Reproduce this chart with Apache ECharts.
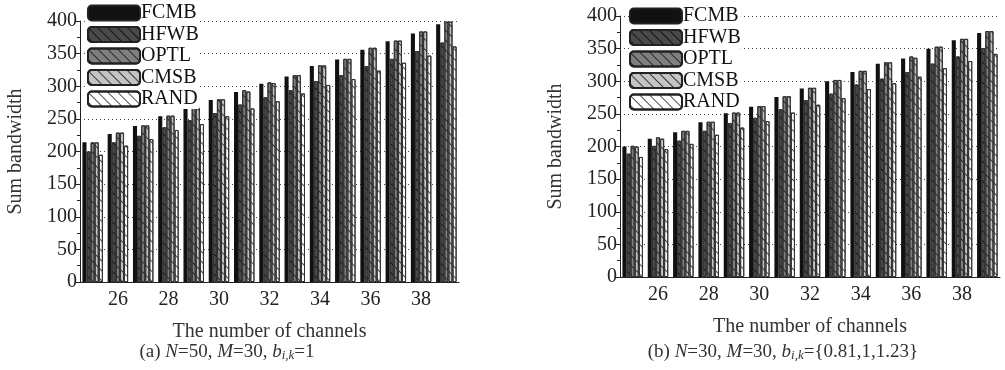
<!DOCTYPE html>
<html>
<head>
<meta charset="utf-8">
<script src="https://cdn.jsdelivr.net/npm/echarts@6/dist/echarts.min.js"></script>
<style>
  html, body { margin: 0; padding: 0; background: #fff; }
  #main { width: 1005px; height: 370px; }
</style>
</head>
<body>
<div id="main"></div>
<script>
// channels on the x axis
var channels = ['25','26','27','28','29','30','31','32','33','34','35','36','37','38','39'];
var names = ['FCMB', 'HFWB', 'OPTL', 'CMSB', 'RAND'];

// (a) N=50, M=30, b=1
var aFCMB = [214, 227, 239, 254, 266, 279, 291, 304, 315, 331, 341, 356, 369, 381, 395];
var aHFWB = [200, 214, 224, 237, 248, 259, 272, 283, 294, 308, 317, 331, 342, 354, 367];
var aOPTL = [214, 229, 240, 255, 267, 280, 294, 306, 317, 332, 342, 359, 370, 384, 399];
var aCMSB = [214, 229, 240, 255, 267, 280, 292, 305, 317, 332, 342, 359, 370, 384, 399];
var aRAND = [195, 209, 219, 233, 242, 254, 266, 277, 289, 302, 311, 324, 336, 347, 361];

// (b) N=30, M=30, b={0.81,1,1.23}
var bFCMB = [200, 212, 222, 237, 251, 261, 276, 289, 300, 314, 327, 335, 350, 363, 374];
var bHFWB = [189, 201, 209, 224, 236, 244, 257, 271, 281, 295, 304, 314, 327, 338, 351];
var bOPTL = [201, 214, 224, 238, 252, 262, 277, 290, 302, 316, 329, 338, 353, 365, 377];
var bCMSB = [200, 212, 224, 238, 252, 262, 277, 290, 302, 316, 329, 336, 353, 365, 377];
var bRAND = [184, 196, 204, 218, 229, 239, 252, 264, 274, 288, 297, 307, 320, 331, 342];

var fills = ['#111111', '#4a4a4a', '#7f7f7f', '#c4c4c4', '#ffffff'];
var serif = 'Liberation Serif';

function hatch(i) {
  if (i === 0) return null;
  return {
    symbol: 'rect',
    symbolSize: 1,
    rotation: Math.PI / 4,
    dashArrayX: [1, 0],
    dashArrayY: [1, 6],
    color: 'rgba(0,0,0,0.7)'
  };
}

function makeSeries(data, idx) {
  return data.map(function (d, i) {
    return {
      name: names[i],
      type: 'bar',
      xAxisIndex: idx,
      yAxisIndex: idx,
      data: d,
      barGap: '0%',
      barCategoryGap: '19%',
      itemStyle: {
        color: fills[i],
        borderColor: i === 0 ? '#000' : '#333',
        borderWidth: i === 0 ? 0 : 1,
        decal: hatch(i)
      }
    };
  });
}

function xAx(idx) {
  return {
    type: 'category',
    gridIndex: idx,
    data: channels,
    name: 'The number of channels',
    nameLocation: 'middle',
    nameGap: 40,
    nameTextStyle: { fontFamily: serif, fontSize: 20, color: '#333' },
    axisLine: { lineStyle: { color: '#222', width: 1 } },
    axisTick: { alignWithLabel: true, length: 5, lineStyle: { color: '#222' } },
    axisLabel: {
      fontFamily: serif, fontSize: 20, color: '#222', margin: 8,
      interval: function (index) { return index % 2 === 1; }
    },
    splitLine: { show: false }
  };
}

function yAx(idx) {
  return {
    type: 'value',
    gridIndex: idx,
    min: 0,
    max: 400,
    interval: 50,
    name: 'Sum bandwidth',
    nameLocation: 'middle',
    nameGap: 54,
    nameTextStyle: { fontFamily: serif, fontSize: 20, color: '#333' },
    axisLine: { show: true, lineStyle: { color: '#222', width: 1 } },
    axisTick: { show: true, length: 5, lineStyle: { color: '#222' } },
    minorTick: { show: true, splitNumber: 2, length: 3, lineStyle: { color: '#222' } },
    axisLabel: { fontFamily: serif, fontSize: 20, color: '#222', margin: 3 },
    splitLine: { show: true, lineStyle: { color: '#444', type: [1, 3], width: 1 } }
  };
}

function legendAt(left, top) {
  return {
    data: names,
    orient: 'vertical',
    left: left,
    top: top,
    itemWidth: 52,
    itemHeight: 15,
    itemGap: 1.5,
    padding: 0,
    backgroundColor: '#fff',
    selectedMode: false,
    itemStyle: { borderColor: '#222', borderWidth: 2 },
    textStyle: {
      fontFamily: serif, fontSize: 20, color: '#111', padding: [0, 0, 0, -4]
    }
  };
}

var capRich = {
  n: { fontFamily: serif, fontSize: 19, color: '#333' },
  i: { fontFamily: serif, fontSize: 19, fontStyle: 'italic', color: '#333' },
  s: { fontFamily: serif, fontSize: 13, fontStyle: 'italic', color: '#333', padding: [8, 0, 0, 0] }
};

var dom = document.getElementById('main');
var myChart = echarts.init(dom);

var option = {
  animation: false,
  backgroundColor: '#fff',
  grid: [
    { left: 80, top: 21, width: 379, height: 261 },
    { left: 620, top: 16, width: 380, height: 261 }
  ],
  legend: [legendAt(87, 3), legendAt(629, 6)],
  xAxis: [xAx(0), xAx(1)],
  yAxis: [yAx(0), yAx(1)],
  series: makeSeries([aFCMB, aHFWB, aOPTL, aCMSB, aRAND], 0)
    .concat(makeSeries([bFCMB, bHFWB, bOPTL, bCMSB, bRAND], 1)),
  graphic: [
    {
      type: 'text', x: 227, y: 352,
      style: {
        text: '{n|(a) }{i|N}{n|=50, }{i|M}{n|=30, }{i|b}{s|i,k}{n|=1}',
        fontFamily: serif, fontSize: 19, fill: '#333',
        rich: capRich, align: 'center', verticalAlign: 'middle'
      }
    },
    {
      type: 'text', x: 783, y: 352,
      style: {
        // the closing brace falls outside the rich token, so it takes the base style
        text: '{n|(b) }{i|N}{n|=30, }{i|M}{n|=30, }{i|b}{s|i,k}{n|={0.81,1,1.23}}',
        fontFamily: serif, fontSize: 19, fill: '#333',
        rich: capRich, align: 'center', verticalAlign: 'middle'
      }
    }
  ]
};

if (option && typeof option === 'object') {
  myChart.setOption(option, false);
}
window.onresize = myChart.resize;
</script>
</body>
</html>
